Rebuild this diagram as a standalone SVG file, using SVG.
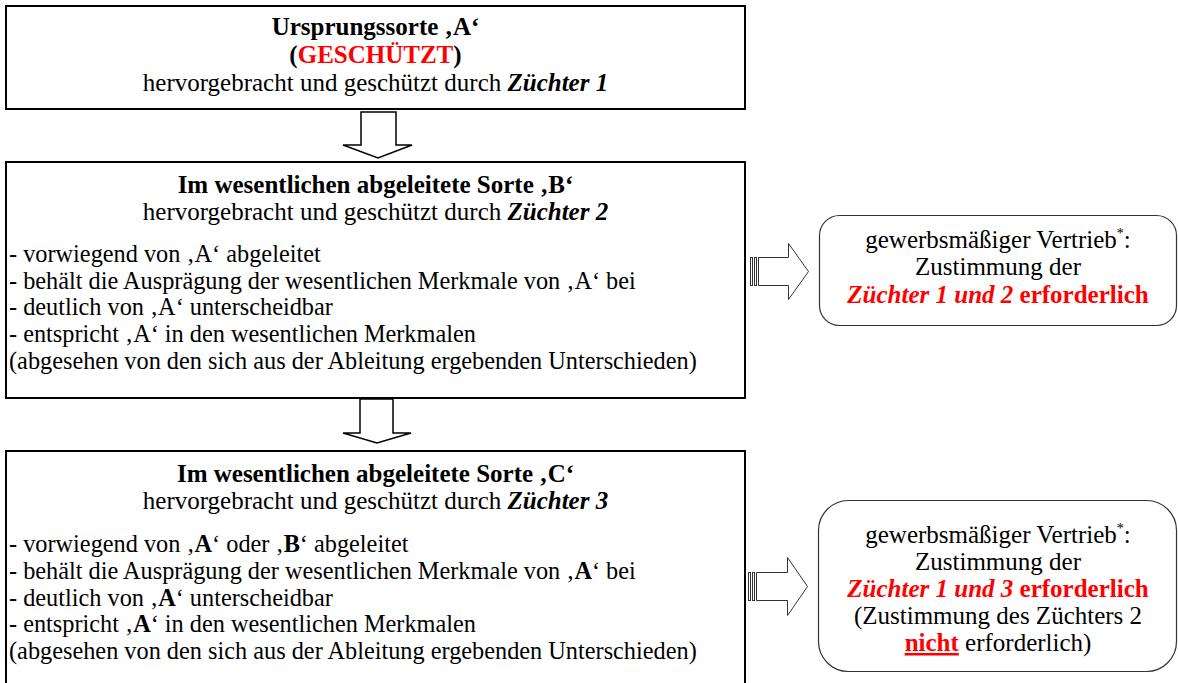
<svg xmlns="http://www.w3.org/2000/svg" width="1178" height="683" viewBox="0 0 1178 683">
<style>
text{font-family:'Liberation Serif','Tinos','Times New Roman','DejaVu Serif',serif;font-size:25px;fill:#000}
.l{font-size:24.3px}
.c{text-anchor:middle}
.b{font-weight:bold}
.bi{font-weight:bold;font-style:italic}
.r{fill:#ff0000}
.box{fill:#fff;stroke:#000;stroke-width:2}
.rbox{fill:#fff;stroke:#333;stroke-width:1.2}
.arr{fill:#fff;stroke:#000;stroke-width:1.5;stroke-linejoin:miter}
.sarr{fill:#fff;stroke:#333;stroke-width:1}
</style>
<rect width="1178" height="683" fill="#fff"/>

<g id="connectors">
<path class="arr" d="M361,112 H396 V145 H412 L378,158 L343,145 H361 Z"/>
<path class="arr" d="M360,399 H393 V433 H411 L377,443 L343,433 H360 Z"/>
<g id="arrowB">
<rect class="sarr" x="750.5" y="257.5" width="2" height="28"/>
<rect class="sarr" x="754.5" y="257.5" width="2" height="28"/>
<path class="sarr" d="M758.5,257.5 H788.5 V243.5 L808.5,271.5 L788.5,299.5 V285.5 H758.5 Z"/>
</g>
<g id="arrowC">
<rect class="sarr" x="748.5" y="572.5" width="2" height="28"/>
<rect class="sarr" x="752.5" y="572.5" width="2" height="28"/>
<path class="sarr" d="M756.5,572.5 H787.5 V557.5 L807.5,586.5 L787.5,615.5 V600.5 H756.5 Z"/>
</g>
</g>

<g id="nodeA">
<rect class="box" x="6" y="6" width="739" height="103"/>
<text class="c b" x="375.5" y="35">Ursprungssorte ‚A‘</text>
<text class="c b" x="375.5" y="63">(<tspan class="r">GESCHÜTZT</tspan>)</text>
<text class="c" x="375.5" y="91">hervorgebracht und geschützt durch <tspan class="bi">Züchter 1</tspan></text>
</g>

<g id="nodeB">
<rect class="box" x="6" y="162" width="739" height="236"/>
<text class="c b" x="375.5" y="193">Im wesentlichen abgeleitete Sorte ‚B‘</text>
<text class="c" x="375.5" y="220">hervorgebracht und geschützt durch <tspan class="bi">Züchter 2</tspan></text>
<text class="l" x="9" y="262">- vorwiegend von ‚A‘ abgeleitet</text>
<text class="l" x="9" y="288.7">- behält die Ausprägung der wesentlichen Merkmale von ‚A‘ bei</text>
<text class="l" x="9" y="315.4">- deutlich von ‚A‘ unterscheidbar</text>
<text class="l" x="9" y="342.1">- entspricht ‚A‘ in den wesentlichen Merkmalen</text>
<text class="l" x="9" y="368.8">(abgesehen von den sich aus der Ableitung ergebenden Unterschieden)</text>
</g>

<g id="nodeC">
<rect class="box" x="6" y="451" width="739" height="240"/>
<text class="c b" x="375.5" y="482">Im wesentlichen abgeleitete Sorte ‚C‘</text>
<text class="c" x="375.5" y="509">hervorgebracht und geschützt durch <tspan class="bi">Züchter 3</tspan></text>
<text class="l" x="9" y="552">- vorwiegend von ‚<tspan class="b">A</tspan>‘ oder ‚<tspan class="b">B</tspan>‘ abgeleitet</text>
<text class="l" x="9" y="578.8">- behält die Ausprägung der wesentlichen Merkmale von ‚<tspan class="b">A</tspan>‘ bei</text>
<text class="l" x="9" y="605.6">- deutlich von ‚<tspan class="b">A</tspan>‘ unterscheidbar</text>
<text class="l" x="9" y="632.4">- entspricht ‚<tspan class="b">A</tspan>‘ in den wesentlichen Merkmalen</text>
<text class="l" x="9" y="659.2">(abgesehen von den sich aus der Ableitung ergebenden Unterschieden)</text>
</g>

<g id="nodeB2">
<rect class="rbox" x="819.5" y="215.5" width="357" height="110" rx="20" ry="20"/>
<text class="c" x="998" y="248">gewerbsmäßiger Vertrieb<tspan font-size="14" dy="-10">*</tspan><tspan dy="10">:</tspan></text>
<text class="c" x="998" y="275">Zustimmung der</text>
<text class="c b r" x="998" y="303"><tspan font-style="italic">Züchter 1 und 2</tspan> erforderlich</text>
</g>

<g id="nodeC2">
<rect class="rbox" x="818.5" y="500.5" width="358" height="171" rx="30" ry="30"/>
<text class="c" x="998" y="543">gewerbsmäßiger Vertrieb<tspan font-size="14" dy="-10">*</tspan><tspan dy="10">:</tspan></text>
<text class="c" x="998" y="570">Zustimmung der</text>
<text class="c b r" x="998" y="597"><tspan font-style="italic">Züchter 1 und 3</tspan> erforderlich</text>
<text class="c" x="998" y="624">(Zustimmung des Züchters 2</text>
<text class="c" x="998" y="651"><tspan class="b r" text-decoration="underline">nicht</tspan> erforderlich)</text>
</g>
</svg>
